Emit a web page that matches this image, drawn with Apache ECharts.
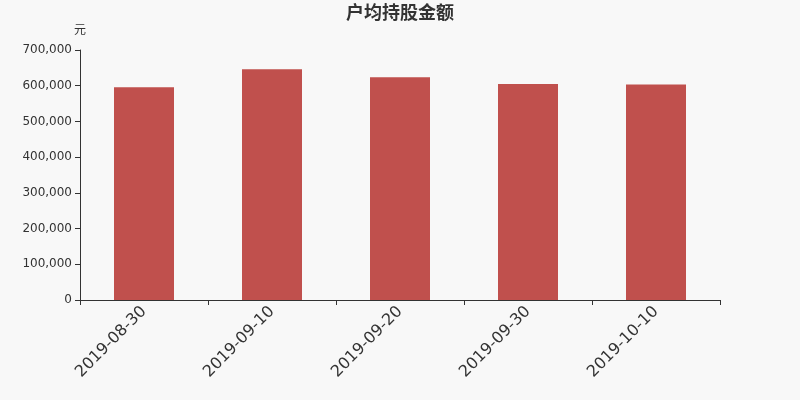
<!DOCTYPE html>
<html><head><meta charset="utf-8">
<script src="https://cdn.jsdelivr.net/npm/echarts@6/dist/echarts.min.js"></script>
<style>html,body{margin:0;padding:0;background:#f8f8f8;}#c{width:800px;height:400px;}</style>
</head><body><div id="c"></div>
<script>
const categories = ['2019-08-30','2019-09-10','2019-09-20','2019-09-30','2019-10-10'];
const values = [595500, 645800, 623500, 604800, 603500];
const yTicks = [0,100000,200000,300000,400000,500000,600000,700000];
const chart = echarts.init(document.getElementById('c'));
chart.setOption({
  backgroundColor:'#f8f8f8',
  animation:false,
  title:{text:'户均持股金额',left:'center',top:-2,textStyle:{fontSize:18,fontWeight:'bold',color:'#333',fontFamily:'Noto Sans CJK SC'}},
  grid:{left:80,right:80,top:50,bottom:100},
  xAxis:{type:'category',data:categories,
    axisLine:{lineStyle:{color:'#333'}},
    axisTick:{show:true,alignWithLabel:false,lineStyle:{color:'#333'}},
    axisLabel:{rotate:45,fontSize:16,color:'#333',margin:9,fontFamily:'DejaVu Sans'}},
  yAxis:{type:'value',name:'元',min:yTicks[0],max:yTicks[yTicks.length-1],interval:100000,
    nameTextStyle:{color:'#333',fontSize:12,align:'center',fontFamily:'Noto Sans CJK SC'},
    nameGap:15,
    axisLine:{show:true,lineStyle:{color:'#333'}},
    axisTick:{show:true,lineStyle:{color:'#333'}},
    splitLine:{show:false},
    axisLabel:{color:'#333',fontSize:12,fontFamily:'DejaVu Sans',formatter:v=>v.toLocaleString('en-US')}},
  series:[{type:'bar',data:values,barWidth:60,itemStyle:{color:'#c0504d'}}]
});
</script></body></html>
